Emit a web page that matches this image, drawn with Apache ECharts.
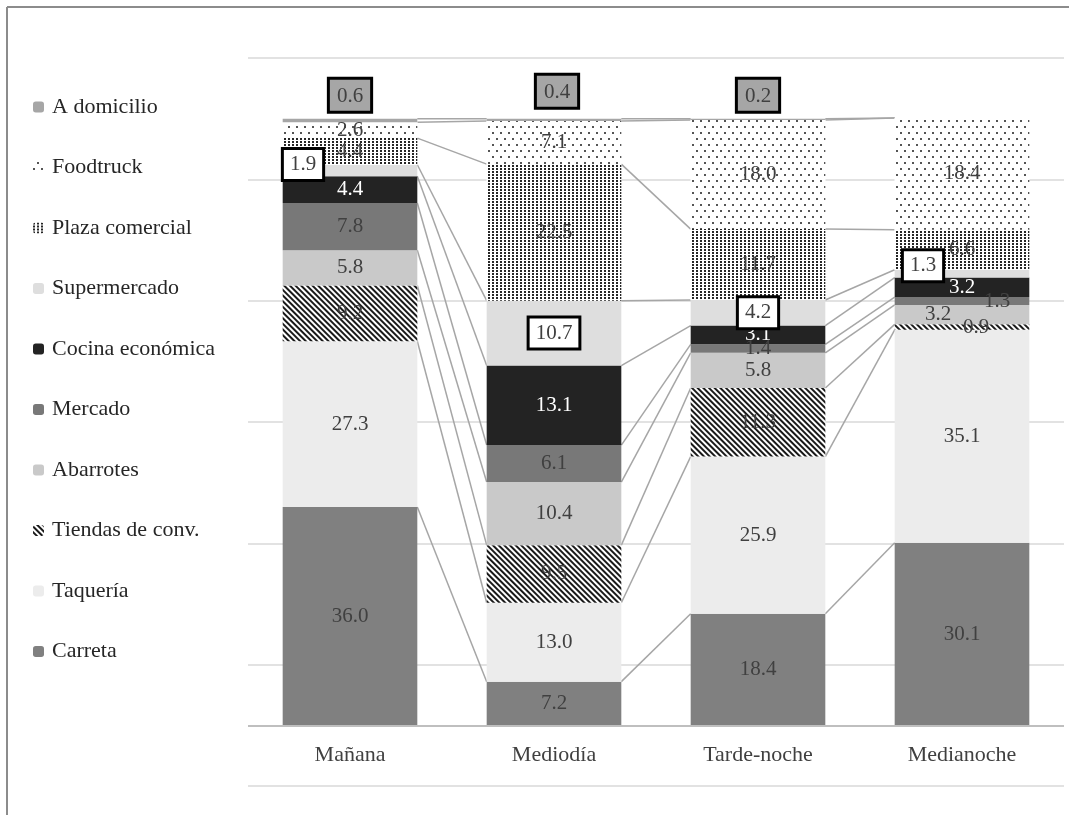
<!DOCTYPE html>
<html>
<head>
<meta charset="utf-8">
<script src="https://cdn.jsdelivr.net/npm/echarts@6/dist/echarts.min.js"></script>
<style>
  html, body { margin: 0; padding: 0; background: #fff; }
  #chart { width: 1069px; height: 815px; }
</style>
</head>
<body>
<div id="chart"></div>
<script>
// categorias (momento del dia)
const categories = ['Mañana', 'Mediodía', 'Tarde-noche', 'Medianoche'];

// porcentajes por lugar de compra, de abajo hacia arriba en la pila
const carreta = [36.0, 7.2, 18.4, 30.1];
const taqueria = [27.3, 13.0, 25.9, 35.1];
const tiendas = [9.2, 9.5, 11.3, 0.9];
const abarrotes = [5.8, 10.4, 5.8, 3.2];
const mercado = [7.8, 6.1, 1.4, 1.3];
const cocina = [4.4, 13.1, 3.1, 3.2];
const supermercado = [1.9, 10.7, 4.2, 1.3];
const plaza = [4.4, 22.5, 11.7, 6.6];
const foodtruck = [2.6, 7.1, 18.0, 18.4];
const domicilio = [0.6, 0.4, 0.2, 0];

const seriesNames = ['Carreta', 'Taquería', 'Tiendas de conv.', 'Abarrotes', 'Mercado',
  'Cocina económica', 'Supermercado', 'Plaza comercial', 'Foodtruck', 'A domicilio'];
const seriesValues = [carreta, taqueria, tiendas, abarrotes, mercado,
  cocina, supermercado, plaza, foodtruck, domicilio];

const FONT = 'Liberation Serif';
const BAR_RATIO = 0.66;

// estilos de cada serie
const styles = {
  'Carreta': { color: '#808080' },
  'Taquería': { color: '#ececec' },
  'Tiendas de conv.': {
    color: '#ffffff',
    decal: { symbol: 'rect', color: '#1a1a1a', backgroundColor: '#ffffff',
      dashArrayX: [1, 0], dashArrayY: [2, 2], rotation: Math.PI / 4 }
  },
  'Abarrotes': { color: '#c9c9c9' },
  'Mercado': { color: '#787878' },
  'Cocina económica': { color: '#232323' },
  'Supermercado': { color: '#dedede' },
  'Plaza comercial': {
    color: '#ffffff',
    decal: { symbol: 'rect', color: '#262626', backgroundColor: '#ffffff',
      dashArrayX: [2, 1.5], dashArrayY: [2, 1] }
  },
  'Foodtruck': {
    color: '#ffffff',
    decal: { symbol: 'rect', color: '#555555', backgroundColor: '#ffffff',
      dashArrayX: [[2, 6], [0, 4, 2, 2]], dashArrayY: [2, 4] }
  },
  'A domicilio': { color: '#a6a6a6' }
};

// ajustes de etiquetas (cajas y desplazamientos)
const boxWhite = { backgroundColor: '#ffffff', borderColor: '#000', borderWidth: 3, padding: [5, 6, 3, 6] };
const boxGrey = { backgroundColor: '#a6a6a6', borderColor: '#000', borderWidth: 3, padding: [6, 7, 4, 7] };
const labelTweaks = {
  'Supermercado|0': { offset: [-47, -6] },
  'Supermercado|3': { offset: [-39, -8] },
  'Mercado|3': { offset: [35, 1] },
  'Abarrotes|3': { offset: [-24, 0] },
  'Tiendas de conv.|3': { offset: [14, 0] },
  'A domicilio|1': { offset: [3, -4] }
};

// linea base (cero)
const baseValue = 0;

// acumulados para las lineas de serie
const cum = [];
seriesValues.forEach((vals, s) => {
  cum.push(vals.map((v, i) => (s > 0 ? cum[s - 1][i] : 0) + v));
});
const connectors = [];
cum.forEach(row => {
  for (let i = 0; i < categories.length - 1; i++) {
    connectors.push([i, row[i], row[i + 1]]);
  }
});

const barSeries = seriesNames.map((name, s) => {
  const st = styles[name];
  let baseLabel = {
    show: true, position: 'inside', fontFamily: FONT, fontSize: 21, color: '#404040',
    formatter: p => p.value.toFixed(1)
  };
  if (name === 'Cocina económica') baseLabel.color = '#ffffff';
  if (name === 'Supermercado') Object.assign(baseLabel, boxWhite);
  if (name === 'A domicilio') Object.assign(baseLabel, boxGrey, { position: 'top', distance: 8 });
  return {
    name: name,
    type: 'bar',
    stack: 'total',
    barWidth: (BAR_RATIO * 100) + '%',
    itemStyle: { color: st.color, decal: st.decal },
    label: baseLabel,
    data: seriesValues[s].map((v, i) => {
      const t = labelTweaks[name + '|' + i];
      const item = { value: v };
      if (v === 0) item.label = { show: false };
      else if (t) item.label = t;
      return item;
    })
  };
});

// linea del cero
barSeries[0].markLine = {
  silent: true,
  symbol: 'none',
  label: { show: false },
  animation: false,
  data: [{ yAxis: baseValue, lineStyle: { color: '#bfbfbf', width: 2, type: 'solid' } }]
};

const chart = echarts.init(document.getElementById('chart'));
chart.setOption({
  animation: false,
  backgroundColor: '#ffffff',
  graphic: [
    { type: 'line', shape: { x1: 7, y1: 7, x2: 1069, y2: 7 }, style: { stroke: '#8c8c8c', lineWidth: 2 } },
    { type: 'line', shape: { x1: 7, y1: 7, x2: 7, y2: 815 }, style: { stroke: '#8c8c8c', lineWidth: 2 } }
  ],
  legend: {
    data: seriesNames.slice().reverse(),
    orient: 'vertical',
    left: 33,
    top: 96,
    padding: 0,
    itemWidth: 11,
    itemHeight: 11,
    itemGap: 38.5,
    selectedMode: false,
    textStyle: { fontFamily: FONT, fontSize: 22, color: '#262626', lineHeight: 22, padding: [0, 0, 0, 3] }
  },
  grid: { left: 248, right: 5, top: 58, bottom: 29, outerBoundsMode: 'none' },
  xAxis: {
    type: 'category',
    data: categories,
    position: 'bottom',
    axisLine: { show: false, onZero: false },
    axisTick: { show: false },
    axisLabel: { fontFamily: FONT, fontSize: 22, color: '#404040', margin: -42 }
  },
  yAxis: [
    {
      type: 'value', min: -10, max: 110,
      axisLabel: { show: false }, axisLine: { show: false }, axisTick: { show: false },
      splitLine: { show: false }
    },
    {
      // eje auxiliar solo para la cuadricula (-10, 10, 30 ... 110 del eje principal)
      type: 'value', min: 0, max: 120, interval: 20, position: 'left',
      axisLabel: { show: false }, axisLine: { show: false }, axisTick: { show: false },
      splitLine: { show: true, lineStyle: { color: '#d9d9d9', width: 1.5 } }
    }
  ],
  series: barSeries.concat([{
    type: 'custom',
    name: 'lineas',
    silent: true,
    z: 1,
    encode: { x: 0, y: [1, 2] },
    data: connectors,
    renderItem: function (params, api) {
      const i = api.value(0);
      const a = api.coord([i, api.value(1)]);
      const b = api.coord([i + 1, api.value(2)]);
      const half = api.size([1, 0])[0] * BAR_RATIO / 2;
      return {
        type: 'line',
        shape: { x1: a[0] + half, y1: a[1], x2: b[0] - half, y2: b[1] },
        style: { stroke: '#a6a6a6', lineWidth: 1.5 }
      };
    }
  }])
});
</script>
</body>
</html>
